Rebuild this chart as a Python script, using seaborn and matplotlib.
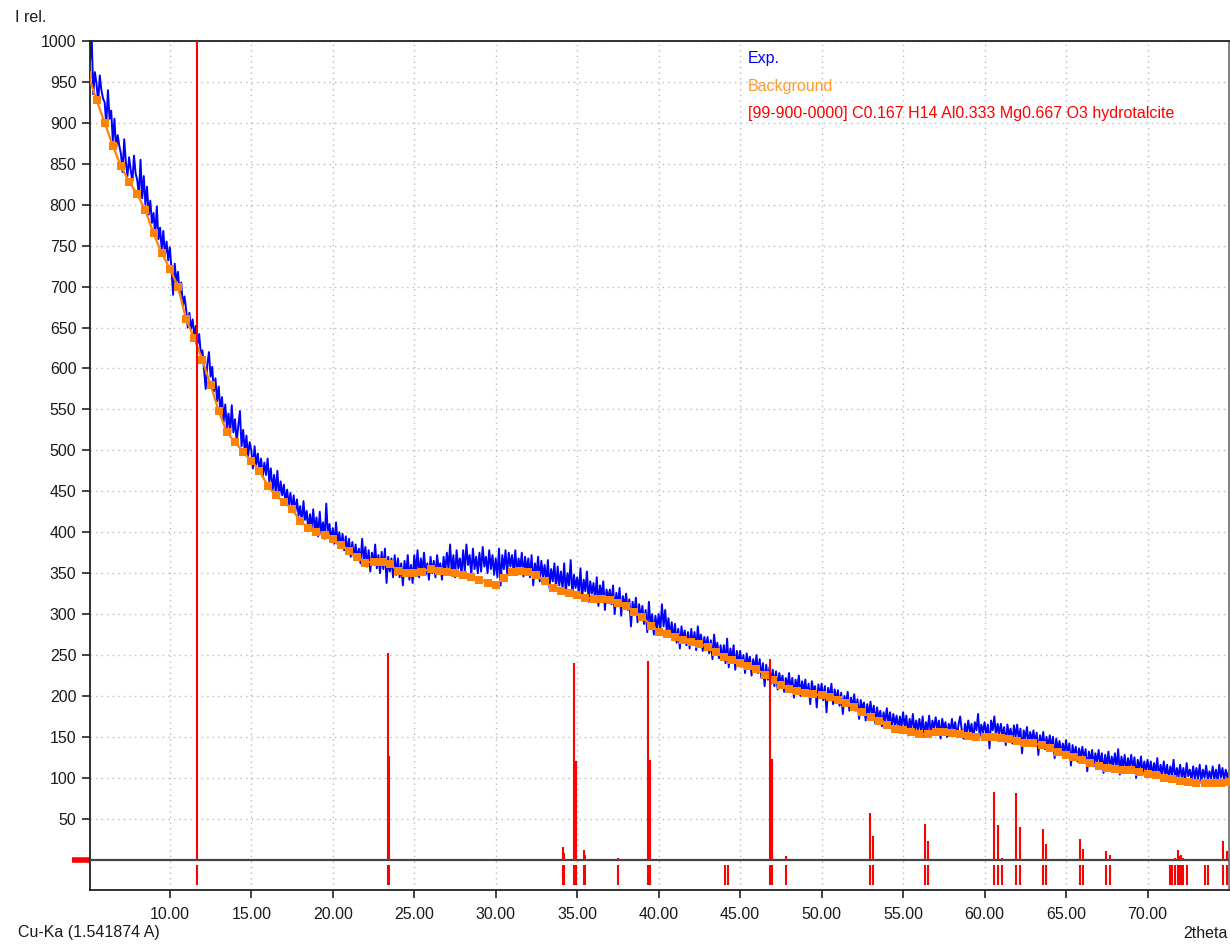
import numpy as np
import pandas as pd
import matplotlib
matplotlib.use("Agg")
import matplotlib.pyplot as plt
import seaborn as sns

# ---------------- data ----------------
exp_start, exp_step = 5.1, 0.1
exp_intensity = [
    975, 1008, 935, 962, 948, 925, 958, 940, 930,
    925, 898, 940, 905, 915, 878, 905, 868, 885, 872,
    862, 840, 880, 852, 835, 858, 842, 828, 860, 838,
    830, 812, 855, 808, 835, 800, 822, 788, 805, 778,
    790, 762, 798, 758, 772, 745, 768, 738, 755, 732,
    748, 722, 690, 728, 705, 718, 692, 705, 676, 688,
    672, 650, 668, 648, 660, 640, 652, 630, 642, 618,
    622, 598, 575, 605, 620, 590, 602, 572, 588, 560,
    578, 548, 565, 535, 556, 528, 545, 520, 555, 522,
    538, 510, 530, 548, 505, 525, 498, 518, 492, 510,
    500, 478, 505, 482, 496, 474, 490, 468, 485, 470,
    490, 462, 478, 450, 470, 448, 475, 442, 462, 445,
    458, 435, 452, 432, 448, 428, 445, 425, 440, 420,
    432, 410, 438, 415, 426, 402, 422, 405, 428, 400,
    418, 395, 425, 398, 412, 392, 435, 396, 410, 388,
    405, 386, 412, 385, 400, 382, 398, 378, 395, 376,
    392, 370, 388, 368, 385, 366, 380, 362, 392, 365,
    382, 358, 378, 352, 375, 360, 385, 356, 372, 350,
    376, 355, 380, 338, 370, 352, 368, 345, 372, 348,
    368, 345, 362, 335, 365, 348, 372, 342, 360, 338,
    372, 350, 378, 345, 368, 352, 375, 348, 362, 342,
    370, 350, 365, 345, 372, 355, 362, 342, 370, 352,
    375, 355, 385, 350, 372, 345, 378, 356, 368, 348,
    378, 352, 385, 360, 372, 348, 380, 355, 370, 350,
    375, 352, 382, 358, 370, 350, 378, 355, 372, 348,
    368, 345, 380, 335, 372, 355, 378, 350, 375, 358,
    372, 352, 378, 348, 368, 355, 375, 346, 370, 352,
    368, 345, 372, 335, 362, 348, 370, 340, 365, 345,
    360, 338, 366, 332, 355, 340, 362, 330, 358, 335,
    352, 330, 362, 325, 350, 335, 366, 322, 348, 332,
    345, 325, 356, 318, 342, 328, 352, 315, 340, 325,
    338, 318, 345, 310, 335, 322, 340, 305, 330, 318,
    330, 312, 335, 300, 326, 312, 332, 298, 322, 308,
    325, 305, 318, 285, 315, 300, 320, 290, 312, 295,
    310, 288, 305, 278, 315, 285, 300, 275, 298, 282,
    300, 280, 312, 285, 305, 278, 295, 272, 290, 268,
    288, 265, 282, 258, 285, 268, 280, 262, 278, 258,
    282, 262, 278, 256, 285, 265, 275, 255, 272, 258,
    272, 252, 268, 245, 275, 255, 265, 246, 262, 244,
    262, 240, 270, 235, 258, 245, 262, 232, 255, 238,
    255, 236, 250, 228, 252, 238, 248, 225, 245, 232,
    250, 228, 245, 222, 240, 212, 238, 220, 235, 215,
    232, 212, 230, 208, 228, 215, 225, 205, 222, 210,
    228, 206, 222, 198, 220, 208, 225, 200, 218, 205,
    220, 200, 215, 190, 218, 205, 212, 186, 214, 200,
    215, 195, 212, 180, 210, 198, 215, 190, 208, 194,
    207, 188, 204, 178, 200, 190, 205, 182, 198, 185,
    202, 182, 196, 172, 195, 184, 192, 170, 190, 176,
    193, 175, 188, 166, 186, 172, 182, 163, 180, 168,
    185, 166, 180, 160, 178, 165, 176, 158, 175, 162,
    180, 162, 176, 152, 172, 160, 178, 155, 170, 158,
    172, 156, 175, 150, 168, 158, 176, 152, 170, 160,
    174, 158, 170, 148, 172, 160, 168, 150, 166, 157,
    172, 156, 168, 150, 165, 175, 158, 148, 166, 154,
    170, 155, 166, 146, 168, 158, 178, 150, 165, 155,
    168, 152, 165, 136, 170, 158, 175, 150, 166, 154,
    166, 150, 162, 140, 165, 152, 160, 142, 164, 150,
    165, 146, 160, 130, 158, 148, 162, 140, 156, 145,
    158, 142, 155, 128, 152, 140, 156, 135, 150, 138,
    152, 136, 150, 124, 148, 133, 145, 128, 142, 130,
    146, 128, 142, 115, 140, 126, 138, 120, 136, 124,
    138, 122, 135, 108, 132, 120, 134, 114, 130, 118,
    134, 116, 130, 106, 128, 114, 132, 110, 126, 115,
    130, 112, 135, 104, 126, 113, 128, 106, 124, 112,
    128, 110, 125, 100, 122, 110, 126, 104, 120, 108,
    122, 106, 120, 102, 118, 106, 124, 100, 116, 104,
    120, 102, 116, 98, 114, 103, 122, 97, 112, 101,
    116, 100, 112, 96, 118, 102, 110, 97, 114, 99,
    112, 98, 116, 96, 110, 100, 115, 97, 108, 99,
    114, 98, 110, 96, 116, 100, 112, 97, 110, 100,
    108,
]

bg_start, bg_step = 5.0, 0.5
background = [
    958, 928, 900, 872, 847, 828, 813, 793, 765, 741,
    722, 700, 660, 637, 610, 580, 548, 522, 510, 498,
    487, 475, 457, 445, 437, 428, 414, 405, 400, 396,
    392, 384, 377, 370, 363, 364, 364, 361, 353, 350,
    350, 352, 355, 353, 351, 350, 348, 345, 342, 338,
    336, 344, 351, 353, 352, 348, 340, 332, 328, 326,
    323, 320, 319, 318, 317, 314, 310, 303, 297, 286,
    278, 276, 272, 268, 266, 264, 260, 254, 248, 244,
    240, 237, 233, 226, 219, 213, 209, 206, 204, 202,
    201, 199, 195, 191, 186, 180, 174, 169, 164, 160,
    158, 156, 153, 154, 156, 156, 155, 153, 151, 150,
    150, 150, 149, 147, 145, 143, 142, 140, 136, 132,
    128, 125, 122, 118, 114, 112, 111, 110, 109, 107,
    105, 103, 100, 98, 96, 95, 94, 94, 94, 94,
    95,
]

peak_pos = [11.66, 23.39, 23.47, 34.13, 34.20, 34.81, 34.90, 35.42, 35.50, 37.50,
            39.37, 39.46, 44.05, 44.25, 46.85, 46.95, 47.83, 52.94, 53.15, 56.34,
            56.55, 60.59, 60.80, 61.07, 61.94, 62.15, 63.58, 63.80, 65.83, 66.03,
            67.47, 67.70, 71.35, 71.50, 71.70, 71.86, 71.95, 72.06, 72.20, 72.40,
            73.50, 73.70, 74.66, 74.86]
peak_int = [1000, 253, 127, 16, 8, 240, 120, 12, 6, 2,
            243, 122, 1, 1, 245, 123, 4, 57, 29, 44,
            23, 83, 42, 2, 81, 40, 38, 19, 25, 13,
            11, 6, 1, 1, 2, 12, 4, 6, 2, 1,
            1, 1, 23, 11]

x_ticks = [10, 15, 20, 25, 30, 35, 40, 45, 50, 55, 60, 65, 70]
y_ticks = list(range(50, 1001, 50))

legend_labels = ["Exp.", "Background",
                 "[99-900-0000] C0.167 H14 Al0.333 Mg0.667 O3 hydrotalcite"]

exp_df = pd.DataFrame({
    "two_theta": exp_start + exp_step * np.arange(len(exp_intensity)),
    "I": exp_intensity,
})
bg_df = pd.DataFrame({
    "two_theta": bg_start + bg_step * np.arange(len(background)),
    "I": background,
})

# ---------------- style ----------------
sns.set_theme(style="white")
plt.rcParams["font.family"] = ["Liberation Sans", "DejaVu Sans"]

BLUE = "#0000FF"
ORANGE = "#FF8205"
RED = "#FF0000"
TXT = "#1a1a1a"

fig = plt.figure(figsize=(12.3, 9.44), dpi=100)
ax = fig.add_axes([90 / 1230, 1 - 890 / 944, 1139 / 1230, (890 - 41) / 944])

ax.grid(True, which="major", color="#BBBBBB", linestyle=(0, (1, 3)), linewidth=1.0)
ax.set_axisbelow(True)

sns.lineplot(data=exp_df, x="two_theta", y="I", ax=ax, color=BLUE,
             linewidth=1.4, estimator=None, sort=False, label=legend_labels[0], zorder=2)
sns.lineplot(data=bg_df, x="two_theta", y="I", ax=ax, color=ORANGE,
             linewidth=1.6, marker="s", markersize=5.5, markeredgewidth=0,
             estimator=None, sort=False, label=legend_labels[1], zorder=3)

ax.axhline(0, color="#444444", linewidth=1.6, zorder=4)
ax.vlines(peak_pos, 0, peak_int, colors=RED, linewidth=1.5, zorder=5,
          label=legend_labels[2])
ax.vlines(peak_pos, -7, -31, colors=RED, linewidth=1.5, zorder=5)

ax.set_xlim(5.1, 75.0)
ax.set_ylim(-37, 1000)
ax.set_xticks(x_ticks)
ax.set_xticklabels([f"{v:.2f}" for v in x_ticks])
ax.set_yticks(y_ticks)
ax.set_yticklabels([str(v) for v in y_ticks])
ax.set_yticks([0], minor=True)
ax.set_xlabel("")
ax.set_ylabel("")

ax.tick_params(axis="both", which="major", direction="out", length=5.8, width=1.2,
               color="#222222", labelsize=11.5, labelcolor=TXT)
ax.tick_params(axis="y", which="major", left=True, pad=4)
ax.tick_params(axis="x", which="major", bottom=True, pad=6.5)
ax.tick_params(axis="y", which="minor", left=True, direction="out", length=13,
               width=4, color=RED)

for side, sp in ax.spines.items():
    sp.set_visible(True)
    sp.set_color("#222222")
    sp.set_linewidth(1.3)
ax.spines["right"].set_color("#777777")

leg = ax.legend(loc="upper left", bbox_to_anchor=(0.565, 1.005), frameon=False,
                handlelength=0, handletextpad=0, labelspacing=0.78,
                fontsize=11.5, labelcolor=[BLUE, "#FF9A30", RED])
for h in leg.legend_handles:
    h.set_visible(False)

fig.text(15 / 1230, 1 - 17 / 944, "I rel.", ha="left", va="center",
         fontsize=11.5, color=TXT)
fig.text(18 / 1230, 1 - 933 / 944, "Cu-Ka (1.541874 A)", ha="left", va="center",
         fontsize=11.5, color=TXT)
fig.text(1228 / 1230, 1 - 933 / 944, "2theta", ha="right", va="center",
         fontsize=11.5, color=TXT)

fig.savefig("out.png", dpi=100)
